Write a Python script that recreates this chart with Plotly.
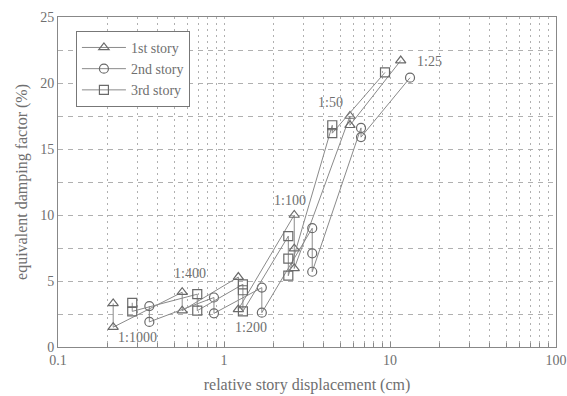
import math
import plotly.graph_objects as go

# 1st story (triangles)
story1_x = [0.215, 0.215, 0.56, 0.56, 1.22, 1.22, 2.65, 2.65, 2.65, 5.74, 5.74, 11.6]
story1_y = [3.3, 1.5, 4.15, 2.75, 5.3, 2.85, 10.0, 7.45, 5.95, 17.5, 16.8, 21.7]
# 2nd story (circles)
story2_x = [0.355, 0.355, 0.87, 0.87, 1.69, 1.69, 3.4, 3.4, 3.4, 6.69, 6.69, 13.2]
story2_y = [3.1, 1.9, 3.75, 2.55, 4.5, 2.6, 9.0, 7.1, 5.7, 16.6, 15.9, 20.4]
# 3rd story (squares)
story3_x = [0.28, 0.28, 0.69, 0.69, 1.3, 1.3, 1.3, 2.44, 2.44, 2.44, 4.49, 4.49, 9.33]
story3_y = [3.35, 2.7, 4.0, 2.75, 4.75, 4.3, 2.7, 8.4, 6.7, 5.4, 16.8, 16.2, 20.8]

drift_labels = ["1:1000", "1:400", "1:200", "1:100", "1:50", "1:25"]
drift_label_x = [0.30, 0.62, 1.45, 2.5, 4.41, 17.4]
drift_label_y = [0.7, 5.6, 1.5, 11.1, 18.5, 21.6]

x_tickvals = [0.1, 1, 10, 100]
x_ticktext = ["0.1", "1", "10", "100"]
y_tickvals = [0, 5, 10, 15, 20, 25]

series = [
    ("1st story", story1_x, story1_y, "triangle-up-open"),
    ("2nd story", story2_x, story2_y, "circle-open"),
    ("3rd story", story3_x, story3_y, "square-open"),
]

LINE = "#6a6a6a"
TXT = "#6f6f6f"
GRID = "#b0b0b0"
FONT = "Liberation Serif"

fig = go.Figure()
for name, xs, ys, sym in series:
    fig.add_trace(go.Scatter(
        x=xs, y=ys, name=name, mode="lines+markers",
        line=dict(color="#8a8a8a", width=1),
        marker=dict(symbol=sym, size=9, color=LINE, line=dict(color=LINE, width=1.2)),
    ))

for t, lx, ly in zip(drift_labels, drift_label_x, drift_label_y):
    fig.add_annotation(x=math.log10(lx), y=ly, text=t, showarrow=False, xref="x", yref="y",
                       font=dict(family=FONT, size=14, color=TXT))

fig.update_xaxes(
    type="log", range=[-1, 2], automargin=False,
    tickvals=x_tickvals, ticktext=x_ticktext,
    showgrid=True, gridcolor=GRID, griddash="2px,4px", gridwidth=1,
    minor=dict(showgrid=True, gridcolor=GRID, griddash="2px,4px", ticks="inside",
               ticklen=4, tickcolor="#888", dtick="D1"),
    ticks="inside", ticklen=5, tickcolor="#888",
    showline=True, linecolor="#888", linewidth=1, mirror=True,
    tickfont=dict(family=FONT, size=14, color=TXT),
    title=dict(text="relative story displacement (cm)", font=dict(family=FONT, size=16, color=TXT), standoff=12),
    zeroline=False,
)
fig.update_yaxes(
    range=[0, 25], tickvals=y_tickvals, automargin=False,
    showgrid=True, gridcolor=GRID, griddash="5px,5px", gridwidth=1,
    minor=dict(showgrid=True, gridcolor=GRID, griddash="5px,5px", dtick=2.5, tick0=0),
    showline=True, linecolor="#888", linewidth=1, mirror=True,
    tickfont=dict(family=FONT, size=14, color=TXT),
    title=dict(text="equivalent damping factor (%)", font=dict(family=FONT, size=16, color=TXT), standoff=8),
    zeroline=False,
)

fig.update_layout(
    width=567, height=396,
    margin=dict(l=58, r=11, t=17, b=49),
    paper_bgcolor="white", plot_bgcolor="white",
    showlegend=True,
    legend=dict(x=0.036, y=0.958, xanchor="left", yanchor="top", itemwidth=44,
                bgcolor="white", bordercolor="#777", borderwidth=1,
                font=dict(family=FONT, size=14, color=TXT)),
)

fig.write_html("out.html", config={"displayModeBar": False},
               post_script="document.body.style.margin='0';document.body.style.overflow='hidden';")
